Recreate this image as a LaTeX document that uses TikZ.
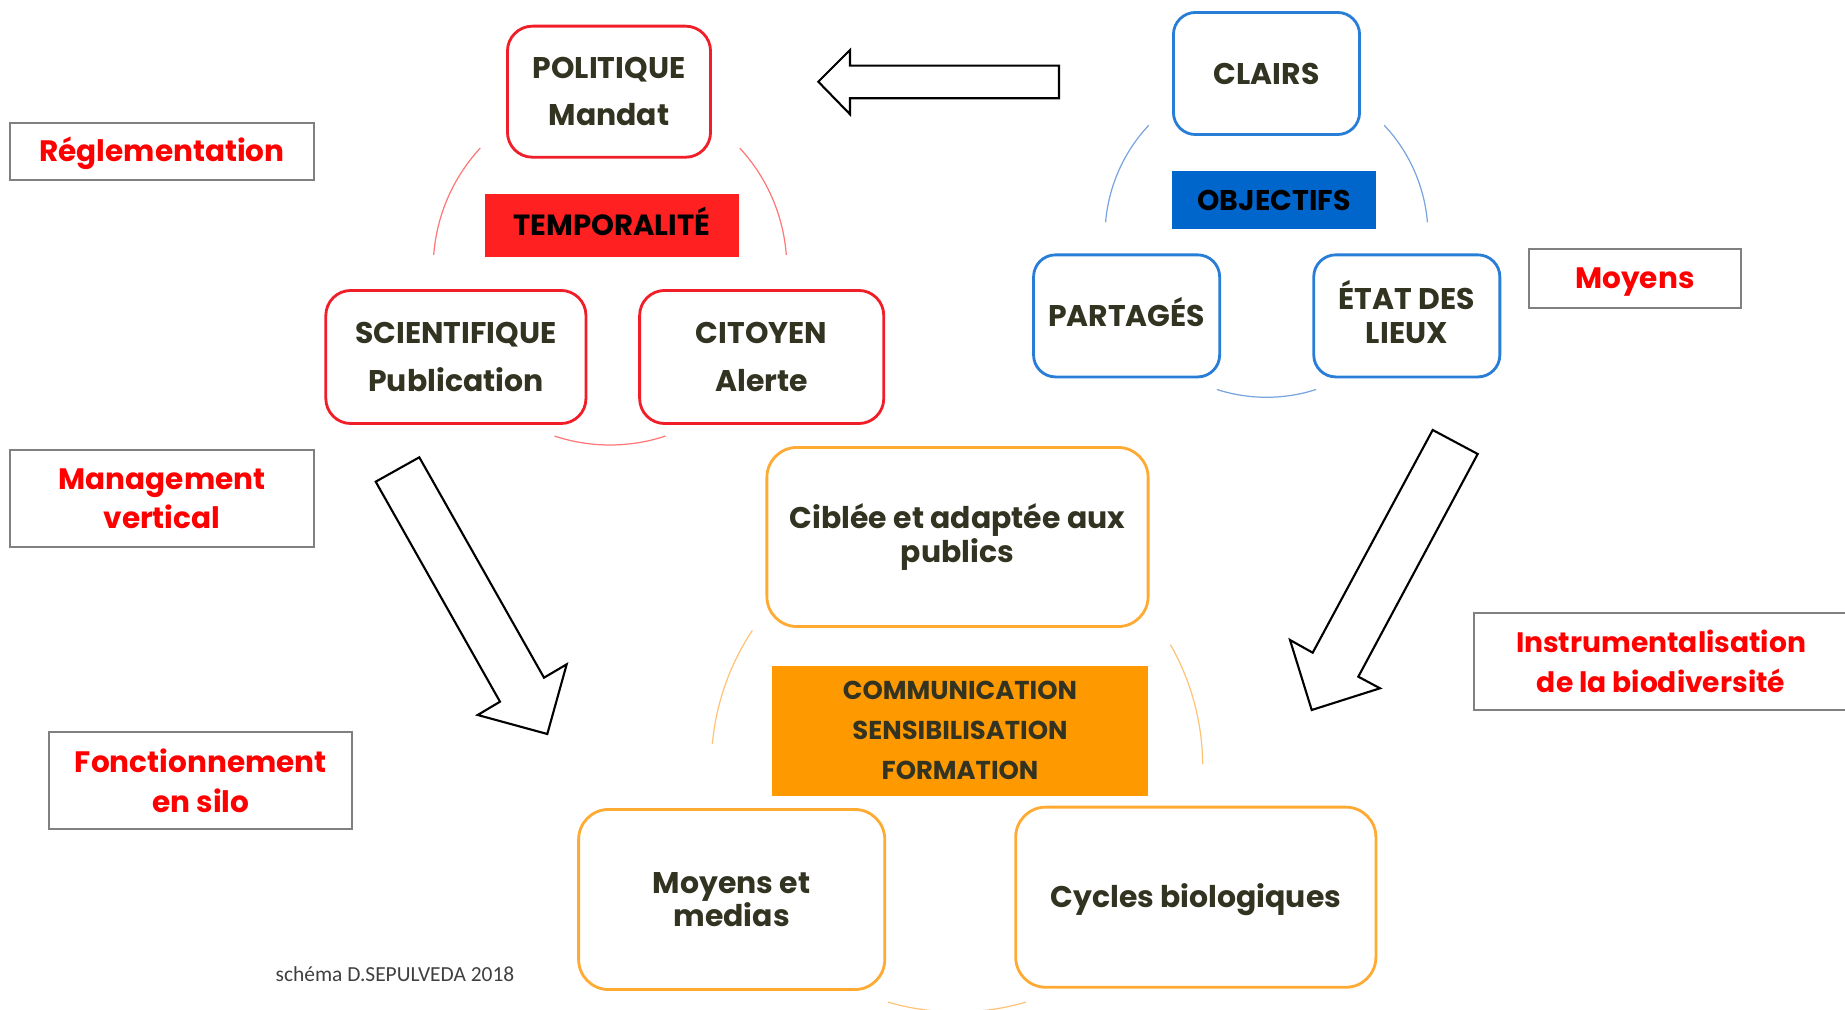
\documentclass[tikz,border=0pt]{standalone}
\usepackage{fontspec}
\newfontfamily\creditfont{Carlito}
\newfontfamily\gothicfont{Poppins}
\usetikzlibrary{positioning}

\definecolor{boxtext}{RGB}{51,51,34}
\definecolor{redline}{RGB}{240,30,40}
\definecolor{redfill}{RGB}{255,33,33}
\definecolor{redarc}{RGB}{255,120,120}
\definecolor{blueline}{RGB}{40,125,215}
\definecolor{bluefill}{RGB}{0,102,204}
\definecolor{bluearc}{RGB}{120,165,225}
\definecolor{orangeline}{RGB}{255,170,50}
\definecolor{orangefill}{RGB}{255,153,0}
\definecolor{orangearc}{RGB}{255,195,120}
\definecolor{labelred}{RGB}{255,0,0}
\definecolor{labelgray}{RGB}{128,128,128}

\newcommand{\gothic}{\gothicfont\bfseries}

\tikzset{
  card/.style={line width=0.8pt, fill=white, text=boxtext, align=center, inner sep=0pt,
    font={\gothic\fontsize{8.5}{13.4}\selectfont}},
  redcard/.style={card, draw=redline, rounded corners=0.25cm},
  bluecard/.style={card, draw=blueline, rounded corners=0.22cm, font={\gothic\fontsize{8.5}{9.7}\selectfont}},
  orangecard/.style={card, draw=orangeline, rounded corners=0.3cm, font={\gothic\fontsize{8.5}{9.5}\selectfont}},
  title/.style={inner sep=0pt, align=center, font={\gothic\fontsize{8.3}{11.4}\selectfont}},
  tag/.style={draw=labelgray, line width=0.6pt, fill=white, text=labelred, align=center, inner sep=0pt,
    font={\gothic\fontsize{8.4}{11.2}\selectfont}},
  oneline/.style={text height=6pt, text depth=0pt},
  hollow/.style={draw=black, line width=0.6pt, fill=white, line join=miter},
}

\begin{document}
\begin{tikzpicture}[x=0.01cm, y=-0.01cm]
  \useasboundingbox (0,0) rectangle (1845,1010);

  % arcs around each group
  \foreach \a/\b in {222.8/184.3, -42.8/-4.3, 108.3/71.7}
    \draw[redarc, line width=0.35pt] plot[domain=\a:\b, samples=30] ({610+176.8*cos(\x)},{268.2+176.8*sin(\x)});
  \foreach \a/\b in {223.2/184.8, -43.2/-4.8, 107.9/72.1}
    \draw[bluearc, line width=0.35pt] plot[domain=\a:\b, samples=30] ({1266.5+161.5*cos(\x)},{235.8+161.5*sin(\x)});
  \foreach \a/\b in {213.6/185.2, -29.7/-0.5, 106.3/73.7}
    \draw[orangearc, line width=0.35pt] plot[domain=\a:\b, samples=30] ({957+245.7*cos(\x)},{766.3+245.7*sin(\x)});

  % red group
  \node[redcard, minimum width=2.03cm, minimum height=1.31cm] (politique) at (609,91.7) {POLITIQUE\\Mandat};
  \node[title, oneline, fill=redfill, text=black, minimum width=2.54cm, minimum height=0.63cm] (temporalite) at (611.8,225.3) {TEMPORALITÉ};
  \node[redcard, minimum width=2.60cm, minimum height=1.33cm] (scientifique) at (455.9,357) {SCIENTIFIQUE\\Publication};
  \node[redcard, minimum width=2.44cm, minimum height=1.33cm] (citoyen) at (761.7,357) {CITOYEN\\Alerte};

  % blue group
  \node[bluecard, oneline, minimum width=1.86cm, minimum height=1.22cm] (clairs) at (1266.5,73.5) {CLAIRS};
  \node[title, oneline, fill=bluefill, text=black, minimum width=2.03cm, minimum height=0.58cm, font={\gothic\fontsize{8.1}{10}\selectfont}] (objectifs) at (1274,200) {OBJECTIFS};
  \node[bluecard, oneline, minimum width=1.86cm, minimum height=1.22cm] (partages) at (1126.6,315.9) {PARTAGÉS};
  \node[bluecard, minimum width=1.86cm, minimum height=1.22cm] (etat) at (1406.8,315.9) {\smash{É}TAT DES\\LIEUX};

  % orange group
  \node[orangecard, minimum width=3.81cm, minimum height=1.79cm] (ciblee) at (957.5,537) {Ciblée et adaptée aux\\publics};
  \node[title, fill=orangefill, text=boxtext, minimum width=3.76cm, minimum height=1.30cm, font={\gothic\fontsize{7.35}{11.4}\selectfont}] (communication) at (960,730.6) {COMMUNICATION\\SENSIBILISATION\\FORMATION};
  \node[orangecard, minimum width=3.06cm, minimum height=1.80cm] (medias) at (731.7,899.5) {Moyens et\\medias};
  \node[orangecard, oneline, minimum width=3.60cm, minimum height=1.80cm] (cycles) at (1195.8,897.2) {Cycles biologiques};

  % side labels
  \node[tag, oneline, minimum width=3.03cm, minimum height=0.57cm] (reglementation) at (162,151.2) {Réglementation};
  \node[tag, minimum width=3.03cm, minimum height=0.97cm] (management) at (162,498.9) {Management\\vertical};
  \node[tag, minimum width=3.03cm, minimum height=0.97cm] (fonctionnement) at (200.8,780.9) {Fonctionnement\\en silo};
  \node[tag, oneline, minimum width=2.12cm, minimum height=0.59cm] (moyens) at (1634.9,278.4) {Moyens};
  \node[tag, minimum width=3.74cm, minimum height=0.97cm, font={\gothic\fontsize{8.0}{11.2}\selectfont}] (instrumentalisation) at (1661,661.4) {Instrumentalisation\\de la biodiversité};

  % block arrows
  \draw[hollow] (818.3,81.7) -- (850,50) -- (850,65.7) -- (1059,65.7) -- (1059,98.3) -- (850,98.3) -- (850,114.3) -- cycle;
  \draw[hollow] (375.7,481.7) -- (419.3,457.3) -- (544,677.7) -- (566.7,664.3) -- (547.3,734) -- (477.7,715) -- (500,701.7) -- cycle;
  \draw[hollow] (1432.7,430) -- (1477.7,454) -- (1358.3,676.7) -- (1380,688.3) -- (1311.7,710) -- (1290,640) -- (1312.7,652.7) -- cycle;

  \node[text=black!75, font={\creditfont\fontsize{6.1}{7}\selectfont}] (credit) at (395,974) {schéma D.SEPULVEDA 2018};
\end{tikzpicture}
\end{document}
